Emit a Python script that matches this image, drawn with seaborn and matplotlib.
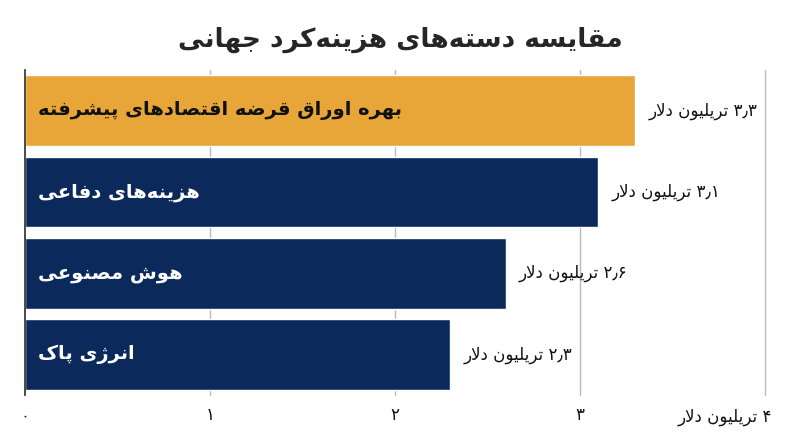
import re
import matplotlib
matplotlib.use("Agg")
import matplotlib.pyplot as plt
import matplotlib.transforms as mtransforms
import seaborn as sns
import pandas as pd

categories = ["بهره اوراق قرضه اقتصادهای پیشرفته", "هزینه‌های دفاعی", "هوش مصنوعی", "انرژی پاک"]
values = [3.3, 3.1, 2.6, 2.3]
value_labels = ["۳٫۳ تریلیون دلار", "۳٫۱ تریلیون دلار", "۲٫۶ تریلیون دلار", "۲٫۳ تریلیون دلار"]
colors = ["#E8A638", "#0B2A5B", "#0B2A5B", "#0B2A5B"]
text_colors = ["#111111", "white", "white", "white"]
tick_vals = [0, 1, 2, 3, 4]
tick_labels = ["۰", "۱", "۲", "۳", "۴ تریلیون دلار"]
title = "مقایسه دسته‌های هزینه‌کرد جهانی"

FORMS = {  # isolated, final, initial, medial
    'ا': (0xFE8D, 0xFE8E, None, None), 'ب': (0xFE8F, 0xFE90, 0xFE91, 0xFE92),
    'پ': (0xFB56, 0xFB57, 0xFB58, 0xFB59), 'ت': (0xFE95, 0xFE96, 0xFE97, 0xFE98),
    'ج': (0xFE9D, 0xFE9E, 0xFE9F, 0xFEA0), 'د': (0xFEA9, 0xFEAA, None, None),
    'ر': (0xFEAD, 0xFEAE, None, None), 'ز': (0xFEAF, 0xFEB0, None, None),
    'ژ': (0xFB8A, 0xFB8B, None, None), 'س': (0xFEB1, 0xFEB2, 0xFEB3, 0xFEB4),
    'ش': (0xFEB5, 0xFEB6, 0xFEB7, 0xFEB8), 'ص': (0xFEB9, 0xFEBA, 0xFEBB, 0xFEBC),
    'ض': (0xFEBD, 0xFEBE, 0xFEBF, 0xFEC0), 'ع': (0xFEC9, 0xFECA, 0xFECB, 0xFECC),
    'ف': (0xFED1, 0xFED2, 0xFED3, 0xFED4), 'ق': (0xFED5, 0xFED6, 0xFED7, 0xFED8),
    'ک': (0xFB8E, 0xFB8F, 0xFB90, 0xFB91), 'ل': (0xFEDD, 0xFEDE, 0xFEDF, 0xFEE0),
    'م': (0xFEE1, 0xFEE2, 0xFEE3, 0xFEE4), 'ن': (0xFEE5, 0xFEE6, 0xFEE7, 0xFEE8),
    'ه': (0xFEE9, 0xFEEA, 0xFEEB, 0xFEEC), 'و': (0xFEED, 0xFEEE, None, None),
    'ی': (0xFBFC, 0xFBFD, 0xFBFE, 0xFBFF),
}

def dual(c):
    return c in FORMS and FORMS[c][2] is not None

def joins(c):
    return c in FORMS

def shape(s):
    out = []
    i = 0
    n = len(s)
    while i < n:
        c = s[i]
        if c not in FORMS:
            if c != '\u200c':
                out.append(c)
            i += 1
            continue
        prev = s[i - 1] if i > 0 else ''
        cp = dual(prev)
        if c == 'ل' and i + 1 < n and s[i + 1] == 'ا':
            out.append(chr(0xFEFC if cp else 0xFEFB))
            i += 2
            continue
        nxt = s[i + 1] if i + 1 < n else ''
        cn = dual(c) and joins(nxt)
        f = FORMS[c]
        if cp and cn:
            code = f[3]
        elif cp:
            code = f[1]
        elif cn:
            code = f[2]
        else:
            code = f[0]
        out.append(chr(code))
        i += 1
    vis = ''.join(out)[::-1]
    vis = re.sub(r'[۰-۹٫]+', lambda m: m.group(0)[::-1], vis)
    return vis

sns.set_theme(style="white")
plt.rcParams['font.family'] = ['DejaVu Sans']

df = pd.DataFrame({"cat": categories, "val": values})
fig = plt.figure(figsize=(8, 4.47), dpi=100)
ax = fig.add_axes([0.031, 0.116, 0.925, 0.727])
sns.barplot(data=df, y="cat", x="val", hue="cat", palette=colors, legend=False,
            orient="h", width=0.87, ax=ax, saturation=1)
ax.set_xlim(0, 4)
ax.set_xticks(tick_vals)
ax.set_xticklabels([shape(t) for t in tick_labels[:-1]] + [""], fontsize=12)
trans = mtransforms.blended_transform_factory(ax.transData, ax.transAxes)
ax.text(tick_vals[-1] + 0.04, -0.04, shape(tick_labels[-1]), transform=trans,
        ha="right", va="top", fontsize=12, color="#111111")
ax.set_yticks([])
ax.set_xlabel("")
ax.set_ylabel("")
for x in tick_vals[1:]:
    ax.axvline(x, color="#bbbbbb", lw=1, zorder=0, clip_on=False)
for s in ["top", "right", "bottom"]:
    ax.spines[s].set_visible(False)
ax.spines["left"].set_color("#333333")
ax.tick_params(axis="x", length=0, pad=8, labelcolor="#111111")
for i, (c, v) in enumerate(zip(categories, values)):
    ax.text(0.07, i, shape(c), color=text_colors[i], fontsize=14,
            va="center", ha="left", fontweight="bold")
    ax.text(v + 0.07, i, shape(value_labels[i]), color="#111111", fontsize=12,
            va="center", ha="left")
fig.text(0.5, 0.91, shape(title), ha="center", va="center", fontsize=19, fontweight="bold")
fig.savefig("out.png", dpi=100, facecolor="white")
